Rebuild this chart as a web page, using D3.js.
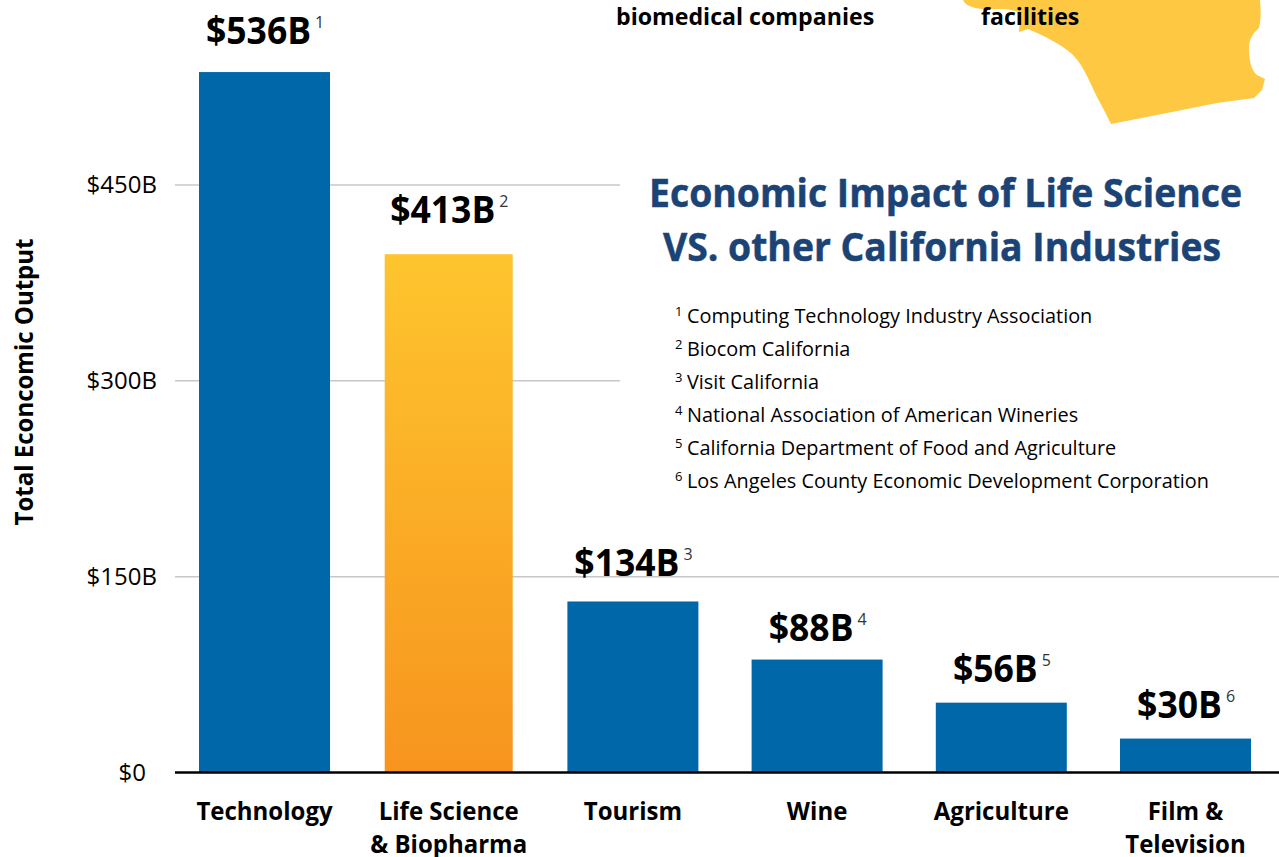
<!DOCTYPE html>
<html>
<head>
<meta charset="utf-8">
<script src="https://cdn.jsdelivr.net/npm/d3@7"></script>
<style>
  html, body { margin: 0; padding: 0; background: #fff; overflow: hidden; }
  svg { display: block; }
  text { font-family: "Open Sans", "Noto Sans", sans-serif; fill: #000; }
  .bold { font-weight: 700; }
</style>
</head>
<body>
<svg id="chart" width="1279" height="857"></svg>
<script>
const categories = [["Technology"], ["Life Science", "& Biopharma"], ["Tourism"], ["Wine"], ["Agriculture"], ["Film &", "Television"]];
// bar heights as drawn, they don't quite agree with the printed labels
const barValues = [536.5, 397, 131, 86.5, 53.5, 26];
const valueLabels = ["$536B", "$413B", "$134B", "$88B", "$56B", "$30B"];
const footnoteMarks = ["1", "2", "3", "4", "5", "6"];
const yTicks = [0, 150, 300, 450];
const sources = [
  "Computing Technology Industry Association",
  "Biocom California",
  "Visit California",
  "National Association of American Wineries",
  "California Department of Food and Agriculture",
  "Los Angeles County Economic Development Corporation"
];
const titleLines = ["Economic Impact of Life Science", "VS. other California Industries"];
const croppedCaptions = ["biomedical companies", "facilities"];

// gap between bar top and label baseline, the original isn't regular
const labelGaps = [28, 31, 25, 19, 21, 21];

const svgEl = d3.select("#chart");
const BLUE = "#0067a9", NAVY = "#1b4375";

// glyphs are wider than the original's, so squeeze them horizontally
function squeeze(sel, factor) {
  sel.each(function() {
    const t = d3.select(this);
    t.attr("textLength", this.getComputedTextLength() * factor).attr("lengthAdjust", "spacingAndGlyphs");
  });
}

/* ---------- Scales ---------- */
const xScale = d3.scaleBand().domain(d3.range(categories.length)).range([172.4, 1277.6])
  .paddingInner(53.2 / 184.2).paddingOuter(53.2 / 368.4);
const yScale = d3.scaleLinear().domain([0, 450]).range([772.5, 185]);

const defs = svgEl.append("defs");
const grad = defs.append("linearGradient").attr("id", "lifeGrad")
  .attr("x1", 0).attr("y1", 0).attr("x2", 0).attr("y2", 1);
grad.append("stop").attr("offset", 0).attr("stop-color", "#fec52e");
grad.append("stop").attr("offset", 1).attr("stop-color", "#f7941e");

/* ---------- California corner ---------- */
svgEl.append("path").attr("fill", "#fec843")
  .attr("d", "M963,0 C965,5 972,8 982,9 C995,10 1008,7 1020,13 L1019,32 L1028,29 C1045,36 1060,44 1072,54 C1080,62 1084,70 1088,78 L1097,97 L1105,112 L1111,124 L1167,113 L1217,103 L1254,98 L1262,90 L1265,79 L1257,75 C1251,70 1249,60 1249,48 C1249,40 1252,34 1259,28 C1261,20 1261,10 1260,0 Z");

/* ---------- Gridlines ---------- */
svgEl.append("g").selectAll("line").data(yTicks.filter(d => d > 0)).join("line")
  .attr("x1", 175).attr("x2", 1279)
  .attr("y1", d => yScale(d)).attr("y2", d => yScale(d))
  .attr("stroke", "#c8c8c8").attr("stroke-width", 1.5);

// the title block sits on a white panel that cuts the upper gridlines
svgEl.append("rect").attr("x", 620).attr("y", 130).attr("width", 659).attr("height", 390).attr("fill", "#fff");

/* ---------- Axes ---------- */
const yAxis = d3.axisLeft(yScale).tickValues(yTicks).tickSize(0).tickPadding(0)
  .tickFormat(d => `$${d}${d ? "B" : ""}`);
const yAxisG = svgEl.append("g").attr("transform", "translate(157,0)").call(yAxis);
yAxisG.select(".domain").remove();
yAxisG.attr("font-family", null);
yAxisG.selectAll("text").style("font-size", "24px")
  .attr("dx", d => d ? 0 : -11).call(squeeze, 1);

const xAxis = d3.axisBottom(xScale).tickSize(0).tickFormat("");
const xAxisG = svgEl.append("g").attr("transform", "translate(0,772.5)").call(xAxis);
xAxisG.select(".domain").remove();
xAxisG.attr("font-family", null);
xAxisG.selectAll(".tick text").remove();
xAxisG.selectAll(".tick").each(function(i) {
  d3.select(this).selectAll("text").data(categories[i]).join("text")
    .attr("class", "bold").attr("text-anchor", "middle")
    .attr("y", (d, k) => 47 + k * 33)
    .style("font-size", "25px")
    .text(d => d)
    .call(squeeze, 0.96);
});

/* ---------- Bars ---------- */
svgEl.append("g").selectAll("rect").data(barValues).join("rect")
  .attr("x", (d, i) => xScale(i) + (i === 1 ? 1.5 : 0))
  .attr("width", (d, i) => xScale.bandwidth() - (i === 1 ? 3 : 0))
  .attr("y", d => yScale(d))
  .attr("height", d => yScale(0) - yScale(d))
  .attr("fill", (d, i) => i === 1 ? "url(#lifeGrad)" : BLUE);

svgEl.append("line").attr("x1", 175).attr("x2", 1279)
  .attr("y1", yScale(0)).attr("y2", yScale(0))
  .attr("stroke", "#000").attr("stroke-width", 2.5);

/* ---------- Value labels ---------- */
const labels = svgEl.append("g").selectAll("g").data(valueLabels).join("g")
  .attr("transform", (d, i) => `translate(${xScale(i) + xScale.bandwidth() / 2 - 6},${yScale(barValues[i]) - labelGaps[i]})`);
labels.append("text").attr("class", "bold").attr("text-anchor", "middle")
  .style("font-size", "37px").text(d => d).call(squeeze, 0.96);
labels.append("text")
  .attr("x", function() {
    return this.parentNode.querySelector("text").getAttribute("textLength") / 2 + 4;
  })
  .attr("y", -16)
  .style("font-size", "16px").style("fill", "#333")
  .text((d, i) => footnoteMarks[i]);

/* ---------- Axis title ---------- */
svgEl.append("text").attr("class", "bold")
  .attr("transform", "translate(33,382) rotate(-90)").attr("text-anchor", "middle")
  .style("font-size", "25px").text("Total Econcomic Output").call(squeeze, 0.96);

/* ---------- Title ---------- */
svgEl.append("g").selectAll("text").data(titleLines).join("text")
  .attr("class", "bold").attr("text-anchor", "middle")
  .attr("x", (d, i) => i ? 942 : 945.5)
  .attr("y", (d, i) => 207 + i * 54)
  .style("font-size", "39px").style("fill", NAVY).style("stroke", NAVY).style("stroke-width", 0.5)
  .text(d => d).call(squeeze, 0.957);

/* ---------- Sources ---------- */
const srcRows = svgEl.append("g").selectAll("g").data(sources).join("g")
  .attr("transform", (d, i) => `translate(0,${323 + i * 33})`);
srcRows.append("text").attr("x", 675).attr("y", -7).style("font-size", "13px")
  .text((d, i) => footnoteMarks[i]);
srcRows.append("text").attr("x", 687).style("font-size", "20.5px").text(d => d).call(squeeze, 0.969);

/* ---------- Cropped captions at the top edge ---------- */
svgEl.append("g").selectAll("text").data(croppedCaptions).join("text")
  .attr("class", "bold")
  .attr("x", (d, i) => i ? 981 : 616).attr("y", 25)
  .style("font-size", "23.5px").text(d => d).call(squeeze, 0.985);
</script>
</body>
</html>
